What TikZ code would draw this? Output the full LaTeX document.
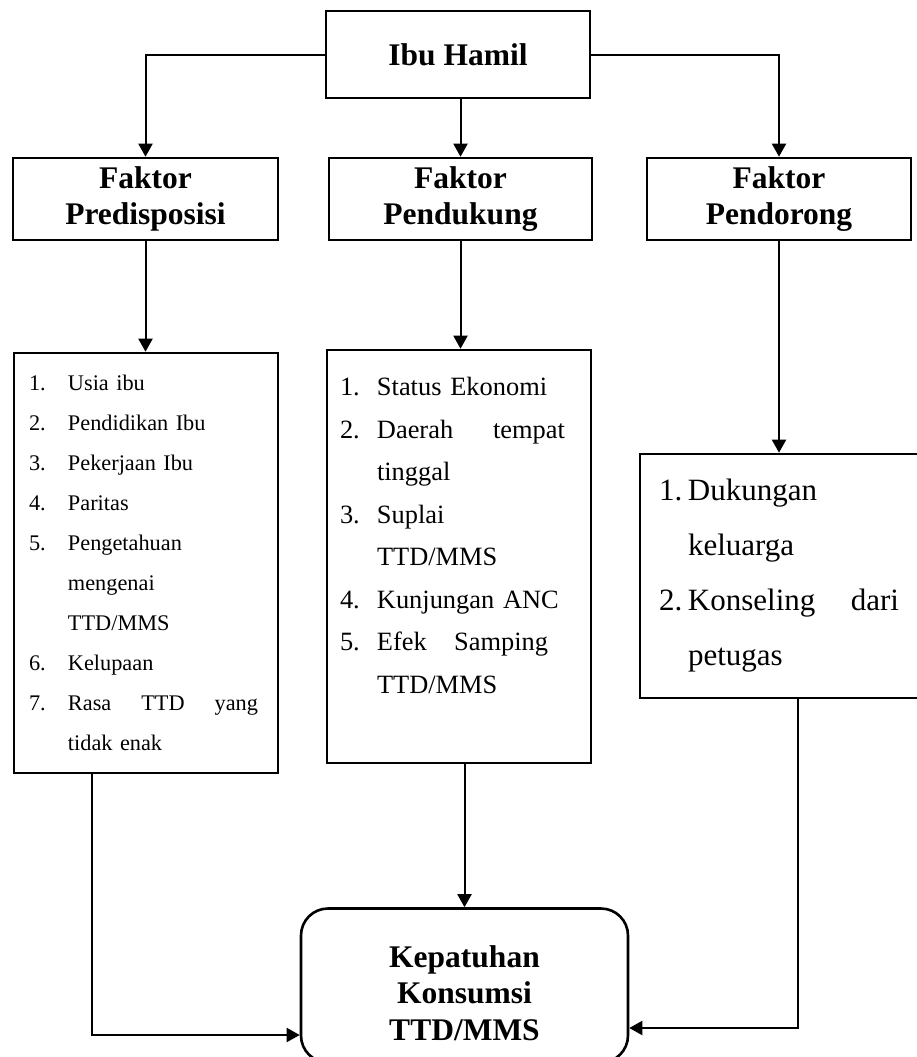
\documentclass[tikz,border=0pt]{standalone}
\usepackage{fontspec}
\setmainfont{Liberation Serif}
\usetikzlibrary{arrows.meta,positioning}

\newcommand{\lnum}[2]{\makebox[#1][l]{#2.}}

\begin{document}
\begin{tikzpicture}[x=0.5pt,y=-0.5pt,
        >={Triangle[length=6.5pt,width=7pt]},
        box/.style={draw,line width=1.3pt,inner sep=0pt},
        head/.style={box,align=center,minimum height=41pt,
            font=\fontsize{15.75pt}{18pt}\selectfont\bfseries},
        listbox/.style={box,align=left,inner ysep=0pt},
        link/.style={line width=1pt}]
        \useasboundingbox (0,0) rectangle (917,1057);

        \node[head,minimum width=132pt,minimum height=43.5pt]
                                        at (458,54.5)   (ibu)   {Ibu Hamil};
        \node[head,minimum width=132.5pt] at (145.5,199) (pred) {Faktor\\Predisposisi};
        \node[head,minimum width=131.5pt] at (460.5,199) (pend) {Faktor\\Pendukung};
        \node[head,minimum width=132pt]   at (779,199)   (dorong) {Faktor\\Pendorong};

        % daftar faktor
        \node[listbox,text width=117pt,inner xsep=7.5pt,minimum height=210pt,
            font=\fontsize{11.15pt}{20pt}\selectfont]
                                        at (146,563)    (list1) {%
            \lnum{19.5pt}{1}Usia ibu\\
            \lnum{19.5pt}{2}Pendidikan Ibu\\
            \lnum{19.5pt}{3}Pekerjaan Ibu\\
            \lnum{19.5pt}{4}Paritas\\
            \lnum{19.5pt}{5}Pengetahuan\\
            \hspace*{19.5pt}mengenai\\
            \hspace*{19.5pt}TTD/MMS\\
            \lnum{19.5pt}{6}Kelupaan\\
            \lnum{19.5pt}{7}\makebox[95pt][s]{Rasa\hfill TTD\hfill yang}\\
            \hspace*{19.5pt}tidak enak};
        \node[listbox,text width=119pt,inner xsep=6.5pt,minimum height=206.5pt,
            font=\fontsize{13.2pt}{21.25pt}\selectfont]
                                        at (459,556.5)  (list2) {%
            \lnum{18.5pt}{1}Status Ekonomi\\
            \lnum{18.5pt}{2}\makebox[94pt][s]{Daerah\hfill tempat}\\
            \hspace*{18.5pt}tinggal\\
            \lnum{18.5pt}{3}Suplai\\
            \hspace*{18.5pt}TTD/MMS\\
            \lnum{18.5pt}{4}Kunjungan ANC\\
            \lnum{18.5pt}{5}\makebox[85.5pt][s]{Efek\hfill Samping}\\
            \hspace*{18.5pt}TTD/MMS\\
            \mbox{}};
        \node[listbox,text width=121pt,inner xsep=9.5pt,minimum height=122pt,
            font=\fontsize{15.5pt}{27.5pt}\selectfont]
                                        at (780,576)    (list3) {%
            \lnum{14.5pt}{1}Dukungan\\
            \hspace*{14.5pt}keluarga\\
            \lnum{14.5pt}{2}\makebox[105.5pt][s]{Konseling\hfill dari}\\
            \hspace*{14.5pt}petugas};

        \node[head,rounded corners=13.5pt,minimum width=163.5pt,minimum height=77pt,
            font=\fontsize{15.75pt}{18.25pt}\selectfont\bfseries]
                                        at (464.5,985.5) (kep)  {\rule{0pt}{18.3pt}Kepatuhan\\Konsumsi\\TTD/MMS};

        \draw[link,->] (ibu.west) -| (pred.north);
        \draw[link,->] (pend.north |- ibu.south) -- (pend.north);
        \draw[link,->] (ibu.east) -| (dorong.north);
        \draw[link,->] (pred.south) -- (pred.south |- list1.north);
        \draw[link,->] (pend.south) -- (pend.south |- list2.north);
        \draw[link,->] (dorong.south) -- (dorong.south |- list3.north);
        \draw[link,->] ([xshift=-27pt]list1.south) |- ([yshift=-24.75pt]kep.west);
        \draw[link,->] (kep.north |- list2.south) -- (kep.north);
        \draw[link,->] ([xshift=9pt]list3.south) |- ([yshift=-21.25pt]kep.east);
\end{tikzpicture}
\end{document}
